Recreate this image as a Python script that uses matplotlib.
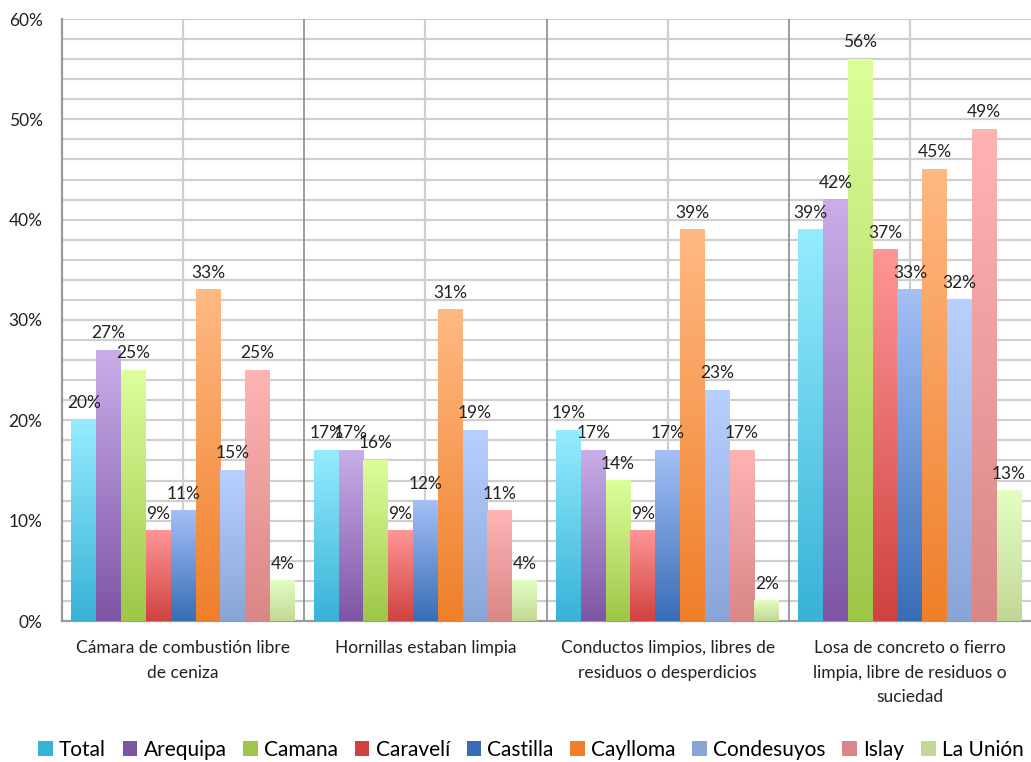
import numpy as np
import matplotlib
matplotlib.use("Agg")
import matplotlib.pyplot as plt
from matplotlib.colors import LinearSegmentedColormap
from matplotlib.patches import Patch

plt.rcParams["font.family"] = ["Lato", "DejaVu Sans"]

categories = [
    "Cámara de combustión libre\nde ceniza",
    "Hornillas estaban limpia",
    "Conductos limpios, libres de\nresiduos o desperdicios",
    "Losa de concreto o fierro\nlimpia, libre de residuos o\nsuciedad",
]
series = ["Total", "Arequipa", "Camana", "Caravelí", "Castilla",
          "Caylloma", "Condesuyos", "Islay", "La Unión"]

total = [20, 17, 19, 39]
arequipa = [27, 17, 17, 42]
camana = [25, 16, 14, 56]
caraveli = [9, 9, 9, 37]
castilla = [11, 12, 17, 33]
caylloma = [33, 31, 39, 45]
condesuyos = [15, 19, 23, 32]
islay = [25, 11, 17, 49]
la_union = [4, 4, 2, 13]
values = [total, arequipa, camana, caraveli, castilla,
          caylloma, condesuyos, islay, la_union]

# (top, bottom) colours for the vertical gradient fill of each series
gradients = [
    ("#95ecff", "#38b2d6"),
    ("#c9aee9", "#7d55a5"),
    ("#dcff9b", "#9ec648"),
    ("#ff9696", "#cf4240"),
    ("#a4c0f7", "#386db6"),
    ("#ffb983", "#ef7f2a"),
    ("#b7d0ff", "#89a5d7"),
    ("#ffb4b4", "#d98686"),
    ("#e2ffc3", "#c2d795"),
]

fig = plt.figure(figsize=(10.31, 7.62), dpi=100)
ax = fig.add_axes([62 / 1031, (762 - 621) / 762, 1 - 62 / 1031, 602 / 762])

n = len(series)
width = 0.1024
x = np.arange(len(categories))
ramp = np.linspace(0, 1, 256).reshape(-1, 1)

for j, (name, vals, (top, bot)) in enumerate(zip(series, values, gradients)):
    cmap = LinearSegmentedColormap.from_list(name, [bot, top])
    for i, v in enumerate(vals):
        cx = x[i] + (j - (n - 1) / 2) * width
        ax.imshow(ramp, cmap=cmap, origin="lower", aspect="auto",
                  extent=[cx - width / 2, cx + width / 2, 0, v / 100],
                  zorder=3, interpolation="bilinear")
        ax.annotate(f"{v}%", (cx, v / 100), xytext=(0, 6.5),
                    textcoords="offset points", ha="center", va="bottom",
                    fontsize=12.5, color="#222222", zorder=5)

ax.set_xlim(-0.5, len(categories) - 0.5)
ax.set_ylim(0, 0.6)

# horizontal grid every 2 %
for y in np.arange(0.02, 0.61, 0.02):
    ax.axhline(y, color="#cfcfcf", lw=1.6, zorder=1)
# light line in the middle of each group, darker one between groups
for i in x:
    ax.axvline(i, color="#cfcfcf", lw=1.6, zorder=1)
for i in x[:-1]:
    ax.axvline(i + 0.5, color="#8c8c8c", lw=1.2, zorder=1)

ax.set_yticks(np.arange(0, 0.61, 0.1))
ax.set_yticklabels([f"{int(round(t * 100))}%" for t in np.arange(0, 0.61, 0.1)])
ax.set_xticks(x)
ax.set_xticklabels(categories, linespacing=1.65)
ax.tick_params(axis="y", length=0, pad=14, labelsize=12.5, labelcolor="#222222")
ax.tick_params(axis="x", length=0, pad=14, labelsize=12.5, labelcolor="#222222")

for side in ["top", "right"]:
    ax.spines[side].set_visible(False)
for side in ["left", "bottom"]:
    ax.spines[side].set_color("#9a9a9a")
    ax.spines[side].set_linewidth(1.6)

handles = [Patch(facecolor=bot, edgecolor="none") for _, bot in gradients]
fig.legend(handles, series, loc="center", bbox_to_anchor=(0.515, 1 - 750 / 762),
           ncol=n, frameon=False, fontsize=15, handlelength=0.7,
           handleheight=0.7, handletextpad=0.3, columnspacing=0.8)

fig.savefig("out.png", dpi=100)
